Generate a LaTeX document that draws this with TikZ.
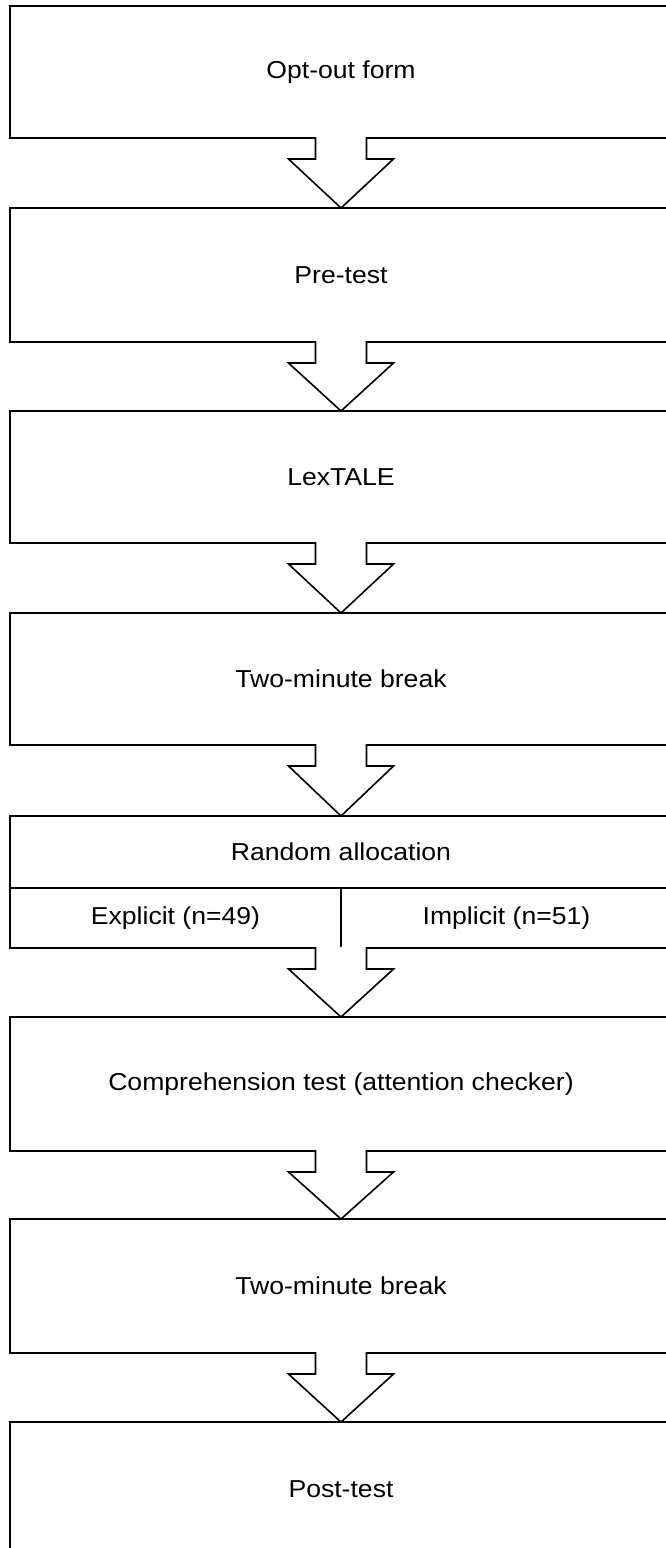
\documentclass[tikz,border=0pt]{standalone}
\usepackage{fontspec}
\setmainfont{Liberation Sans}
\usetikzlibrary{calc}
\newcommand{\lbl}[1]{\scalebox{1.085}[1]{#1}}
\tikzset{
  stagebox/.style={draw=black, line width=1.6pt, fill=white, rectangle, inner sep=0pt, outer sep=0pt,
    minimum width=662pt, font=\fontsize{24.5}{29}\selectfont},
  cellbox/.style={draw=black, line width=1.6pt, fill=white, rectangle, inner sep=0pt, outer sep=0pt,
    minimum width=331pt, minimum height=60pt, font=\fontsize{24.5}{29}\selectfont},
  flowline/.style={draw=black, line width=1.6pt, line join=miter},
}
\newcommand{\flowarrow}[2]{%
  \fill[white] ($(#1)+(-25.5,-1.2)$) -- ($(#1)+(-25.5,21)$) -- ($(#1)+(-52.5,21)$) -- (#2)
     -- ($(#1)+(52.5,21)$) -- ($(#1)+(25.5,21)$) -- ($(#1)+(25.5,-1.2)$) -- cycle;
  \draw[flowline] ($(#1)+(-25.5,-0.8)$) -- ($(#1)+(-25.5,21)$) -- ($(#1)+(-52.5,21)$) -- (#2)
     -- ($(#1)+(52.5,21)$) -- ($(#1)+(25.5,21)$) -- ($(#1)+(25.5,-0.8)$);%
}
\begin{document}
\begin{tikzpicture}[x=1pt,y=-1pt]
\useasboundingbox (0,0) rectangle (666,1548);
\clip (0,0) rectangle (666,1548);
\fill[white] (0,0) rectangle (666,1548);

\node[stagebox, minimum height=132pt] (b1) at (341,72) {\lbl{Opt-out form}};
\node[stagebox, minimum height=134pt] (b2) at (341,275) {\lbl{Pre-test}};
\node[stagebox, minimum height=132pt] (b3) at (341,477) {\lbl{LexTALE}};
\node[stagebox, minimum height=132pt] (b4) at (341,679) {\lbl{Two-minute break}};
\node[stagebox, minimum height=72pt] (b5) at (341,852) {\lbl{Random allocation}};
\node[cellbox] (b5l) at (175.5,918) {\lbl{Explicit (n=49)}};
\node[cellbox] (b5r) at (506.5,918) {\lbl{Implicit (n=51)}};
\node[stagebox, minimum height=134pt] (b6) at (341,1084) {\lbl{Comprehension test (attention checker)}};
\node[stagebox, minimum height=134pt] (b7) at (341,1286) {\lbl{Two-minute break}};
\node[stagebox, minimum height=134pt] (b8) at (341,1489) {\lbl{Post-test}};

\coordinate (split) at (b5l.south east);

\flowarrow{b1.south}{b2.north}
\flowarrow{b2.south}{b3.north}
\flowarrow{b3.south}{b4.north}
\flowarrow{b4.south}{b5.north}
\flowarrow{split}{b6.north}
\flowarrow{b6.south}{b7.north}
\flowarrow{b7.south}{b8.north}
\end{tikzpicture}
\end{document}
